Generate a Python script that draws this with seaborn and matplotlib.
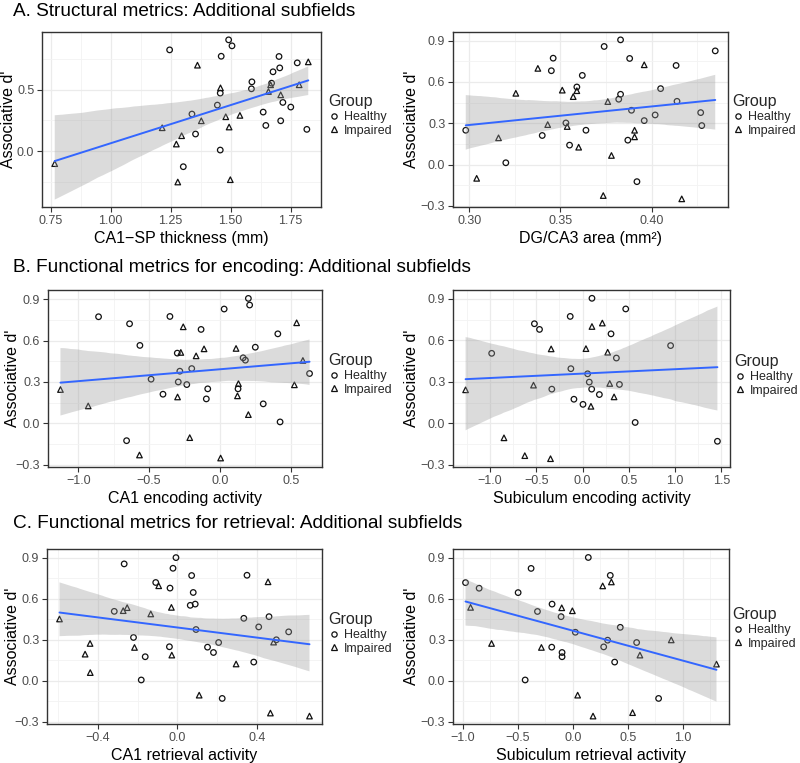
import numpy as np
import pandas as pd
import matplotlib
matplotlib.use("Agg")
import matplotlib.pyplot as plt
import seaborn as sns
from matplotlib.lines import Line2D
from matplotlib.ticker import FixedLocator, FixedFormatter

# ---------------- data ----------------
# A1: CA1-SP thickness
h1_x = [1.246, 1.492, 1.506, 1.461, 1.702, 1.778, 1.705, 1.677, 1.589, 1.671, 1.587, 1.457, 1.445,
        1.718, 1.751, 1.339, 1.636, 1.647, 1.709, 1.354, 1.818, 1.457, 1.303]
h1_y = [0.826, 0.908, 0.859, 0.774, 0.772, 0.720, 0.679, 0.647, 0.565, 0.554, 0.508, 0.473, 0.375,
        0.397, 0.359, 0.302, 0.318, 0.209, 0.247, 0.139, 0.177, 0.008, -0.128]
i1_x = [0.767, 1.362, 1.824, 1.458, 1.667, 1.786, 1.658, 1.709, 1.378, 1.480, 1.539, 1.494, 1.215,
        1.296, 1.274, 1.280, 1.499]
i1_y = [-0.103, 0.701, 0.728, 0.516, 0.541, 0.541, 0.486, 0.459, 0.247, 0.280, 0.291, 0.196, 0.190,
        0.125, 0.057, -0.253, -0.234]

# A2: DG/CA3 area
h2_x = [0.298, 0.320, 0.340, 0.345, 0.346, 0.353, 0.355, 0.359, 0.362, 0.364, 0.374, 0.383, 0.382,
        0.383, 0.388, 0.389, 0.387, 0.392, 0.396, 0.402, 0.405, 0.4135, 0.414, 0.427, 0.4276, 0.435]
h2_y = [0.249, 0.013, 0.211, 0.681, 0.772, 0.302, 0.141, 0.563, 0.647, 0.249, 0.857, 0.905, 0.474,
        0.510, 0.770, 0.394, 0.177, -0.124, 0.319, 0.360, 0.551, 0.719, 0.459, 0.377, 0.283, 0.825]
i2_x = [0.304, 0.316, 0.3255, 0.3376, 0.343, 0.351, 0.3537, 0.357, 0.359, 0.360, 0.3735, 0.376,
        0.378, 0.3907, 0.3907, 0.396, 0.4166]
i2_y = [-0.100, 0.194, 0.517, 0.698, 0.290, 0.540, 0.276, 0.493, 0.536, 0.126, -0.225, 0.457,
        0.066, 0.249, 0.201, 0.724, -0.249]

# B1: CA1 encoding activity
h3_x = [-0.857, -0.638, -0.565, -0.659, -0.486, -0.402, -0.353, -0.301, -0.283, -0.294, -0.234,
        -0.199, -0.133, -0.086, -0.096, 0.030, 0.201, 0.210, 0.164, 0.180, 0.250, 0.128, 0.306,
        0.409, 0.425, 0.633]
h3_y = [0.773, 0.722, 0.565, -0.126, 0.320, 0.211, 0.775, 0.509, 0.378, 0.300, 0.281, 0.397, 0.681,
        0.250, 0.177, 0.829, 0.906, 0.858, 0.475, 0.458, 0.552, 0.250, 0.141, 0.649, 0.010, 0.361]
i3_x = [-1.126, -0.930, -0.568, -0.299, -0.276, -0.259, -0.168, -0.213, -0.112, 0.005, 0.114,
        0.131, 0.124, 0.201, 0.526, 0.542, 0.586]
i3_y = [0.245, 0.126, -0.230, 0.191, 0.514, 0.700, 0.489, -0.104, 0.540, -0.252, 0.543, 0.288,
        0.199, 0.063, 0.279, 0.729, 0.456]

# B2: Subiculum encoding activity
h4_x = [-0.521, -0.466, -0.983, -0.134, -0.127, -0.333, -0.094, 0.004, 0.054, 0.072, 0.098, 0.101,
        0.181, 0.307, 0.365, 0.398, 0.466, 0.568, 0.951, 1.457]
h4_y = [0.721, 0.680, 0.507, 0.774, 0.396, 0.248, 0.175, 0.138, 0.359, 0.299, 0.248, 0.905, 0.209,
        0.648, 0.473, 0.282, 0.828, 0.007, 0.563, -0.129]
i4_x = [-1.265, -0.850, -0.625, -0.531, -0.347, -0.340, 0.036, 0.090, 0.101, 0.213, 0.271, 0.293,
        0.340]
i4_y = [0.243, -0.104, -0.233, 0.277, -0.255, 0.539, 0.541, 0.124, 0.701, 0.726, 0.515, 0.289,
        0.192]

# C1: CA1 retrieval activity
h5_x = [-0.268, -0.007, -0.022, -0.109, -0.037, 0.072, 0.080, 0.065, 0.090, 0.094, -0.318, -0.221,
        -0.162, -0.182, -0.040, 0.152, 0.182, 0.208, 0.226, 0.351, 0.335, 0.410, 0.385, 0.462,
        0.499, 0.561]
h5_y = [0.856, 0.902, 0.824, 0.720, 0.679, 0.771, 0.647, 0.553, 0.562, 0.376, 0.509, 0.318, 0.177,
        0.007, 0.250, 0.247, 0.208, 0.281, -0.128, 0.773, 0.458, 0.395, 0.138, 0.470, 0.301, 0.359]
i5_x = [-0.594, -0.465, -0.440, -0.439, -0.273, -0.253, -0.216, -0.134, -0.094, -0.030, -0.028,
        0.110, 0.296, 0.457, 0.469, 0.485, 0.666]
i5_y = [0.453, 0.196, 0.274, 0.061, 0.514, 0.536, 0.245, 0.490, 0.696, 0.538, 0.189, -0.104, 0.124,
        0.725, -0.235, 0.284, -0.257]

# C2: Subiculum retrieval activity
h6_x = [-0.976, -0.852, -0.497, -0.379, -0.321, -0.433, -0.188, -0.106, -0.191, -0.097, -0.097,
        0.024, 0.142, 0.342, 0.318, 0.282, 0.433, 0.382, 0.582, 0.782]
h6_y = [0.719, 0.678, 0.646, 0.823, 0.508, 0.007, 0.562, 0.470, 0.247, 0.208, 0.177, 0.356, 0.903,
        0.772, 0.298, 0.249, 0.392, 0.138, 0.281, -0.128]
i6_x = [-0.930, -0.739, -0.285, -0.100, -0.003, 0.045, 0.185, 0.273, 0.352, 0.545, 0.612, 0.897,
        1.309]
i6_y = [0.538, 0.274, 0.245, 0.535, 0.513, -0.104, -0.257, 0.695, 0.724, -0.232, 0.189, 0.300,
        0.123]

x_labels = ["CA1\u2212SP thickness (mm)", "DG/CA3 area (mm\u00b2)",
            "CA1 encoding activity", "Subiculum encoding activity",
            "CA1 retrieval activity", "Subiculum retrieval activity"]
x_ticks = [[0.75, 1.00, 1.25, 1.50, 1.75], [0.30, 0.35, 0.40],
           [-1.0, -0.5, 0.0, 0.5], [-1.0, -0.5, 0.0, 0.5, 1.0, 1.5],
           [-0.4, 0.0, 0.4], [-1.0, -0.5, 0.0, 0.5, 1.0]]
x_decimals = [2, 2, 1, 1, 1, 1]
y_ticks_a1 = [0.0, 0.5]
y_ticks = [-0.3, 0.0, 0.3, 0.6, 0.9]
section_titles = ["A. Structural metrics: Additional subfields",
                  "B. Functional metrics for encoding: Additional subfields",
                  "C. Functional metrics for retrieval: Additional subfields"]
groups = ["Healthy", "Impaired"]
y_label = "Associative d'"

panels = [(h1_x, h1_y, i1_x, i1_y), (h2_x, h2_y, i2_x, i2_y), (h3_x, h3_y, i3_x, i3_y),
          (h4_x, h4_y, i4_x, i4_y), (h5_x, h5_y, i5_x, i5_y), (h6_x, h6_y, i6_x, i6_y)]

# ---------------- layout ----------------
sns.set_style("white")
plt.rcParams["font.family"] = ["Liberation Sans", "DejaVu Sans"]
plt.rcParams["axes.unicode_minus"] = True

W, H = 800, 763
fig = plt.figure(figsize=(W / 100, H / 100), dpi=100)

# axes boxes in pixels: left, top, right, bottom
boxes = [(42, 32, 321, 207), (453, 32, 728, 207),
         (48, 290, 322, 467), (453, 290, 730, 467),
         (47, 549, 322, 724), (453, 549, 729, 724)]
ylabel_x = [9, 412, 13, 412, 13, 412]
xlims = [(0.714, 1.877), (0.291, 0.442), (-1.214, 0.721), (-1.401, 1.593),
         (-0.657, 0.729), (-1.090, 1.423)]
ylims = [(-0.457, 0.972), (-0.308, 0.962), (-0.317, 0.967), (-0.315, 0.965),
         (-0.315, 0.965), (-0.315, 0.965)]
legend_pos = [(328, 94), (732, 94), (328, 353), (734, 354), (328, 612), (732, 607)]
title_pos = [12, 268, 524]

tick_col = "#4D4D4D"
frame_col = "#333333"

for k, (hx, hy, ix, iy) in enumerate(panels):
    l, t, r, b = boxes[k]
    ax = fig.add_axes([l / W, 1 - b / H, (r - l) / W, (b - t) / H])
    df = pd.DataFrame({
        "x": list(hx) + list(ix),
        "y": list(hy) + list(iy),
        "Group": [groups[0]] * len(hx) + [groups[1]] * len(ix),
    })
    sns.scatterplot(data=df, x="x", y="y", style="Group",
                    markers={"Healthy": "o", "Impaired": "^"},
                    color="black", s=16, linewidth=0.9, legend=False, ax=ax, zorder=2)
    for c in ax.collections:
        c.set_facecolor("none")
        c.set_edgecolor("#111111")
    n0 = len(ax.collections)
    sns.regplot(data=df, x="x", y="y", scatter=False, ax=ax, color="#3366FF",
                ci=95, n_boot=2000, seed=3, truncate=True,
                line_kws=dict(lw=1.4, zorder=4))
    for c in ax.collections[n0:]:
        c.set_facecolor("#999999")
        c.set_alpha(0.35)
        c.set_edgecolor("none")
        c.set_zorder(3)

    ax.set_xlim(*xlims[k])
    ax.set_ylim(*ylims[k])
    xt = x_ticks[k]
    ax.xaxis.set_major_locator(FixedLocator(xt))
    ax.xaxis.set_major_formatter(FixedFormatter(
        [f"{v:.{x_decimals[k]}f}".replace("-", "\u2212") for v in xt]))
    step = xt[1] - xt[0]
    ax.xaxis.set_minor_locator(FixedLocator(
        [xt[0] - step / 2] + [v + step / 2 for v in xt]))
    yt = y_ticks_a1 if k == 0 else y_ticks
    ax.yaxis.set_major_locator(FixedLocator(yt))
    ax.yaxis.set_major_formatter(FixedFormatter(
        [f"{v:.1f}".replace("-", "\u2212") for v in yt]))
    ystep = yt[1] - yt[0]
    ax.yaxis.set_minor_locator(FixedLocator(
        [yt[0] - ystep / 2] + [v + ystep / 2 for v in yt]))

    ax.set_axisbelow(True)
    ax.grid(which="major", color="#EBEBEB", lw=0.9)
    ax.grid(which="minor", color="#F3F3F3", lw=0.6)
    for s in ax.spines.values():
        s.set_color(frame_col)
        s.set_linewidth(1.0)
    ax.tick_params(which="major", direction="out", length=3.5, width=0.8,
                   color=frame_col, labelcolor=tick_col, labelsize=9, pad=2,
                   bottom=True, left=True)
    ax.tick_params(which="minor", length=0, bottom=False, left=False)
    ax.set_xlabel(x_labels[k], fontsize=11.5, color="black", labelpad=3)
    ax.set_ylabel(y_label, fontsize=11.5, color="black")
    ax.yaxis.label.set_verticalalignment("center")
    ax.yaxis.set_label_coords((ylabel_x[k] - l) / (r - l), 0.5)

    handles = [Line2D([], [], ls="none", marker="o", markersize=3.8, mfc="none",
                      mec="#111111", mew=0.9),
               Line2D([], [], ls="none", marker="^", markersize=4.2, mfc="none",
                      mec="#111111", mew=0.9)]
    lx, ly = legend_pos[k]
    ax.legend(handles, groups, title="Group", loc="upper left",
              bbox_to_anchor=(lx / W, 1 - ly / H), bbox_transform=fig.transFigure,
              frameon=False, fontsize=9, title_fontsize=11.5, handlelength=1.0,
              handletextpad=0.3, labelspacing=0.15, borderpad=0, borderaxespad=0,
              alignment="left")

for j, txt in enumerate(section_titles):
    fig.text(13 / W, 1 - title_pos[j] / H, txt, fontsize=13.7, va="center", ha="left",
             color="black")

fig.savefig("out.png", dpi=100)
